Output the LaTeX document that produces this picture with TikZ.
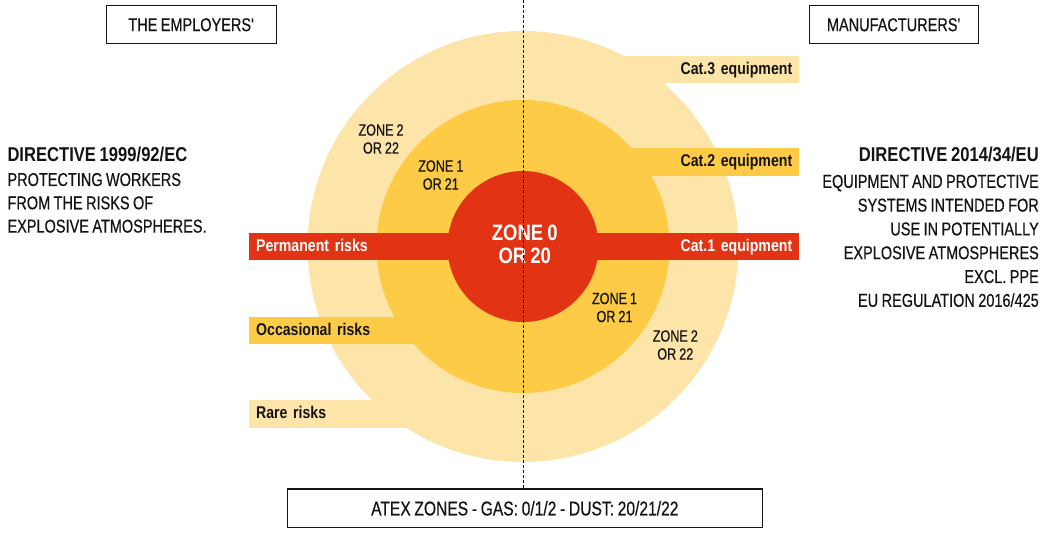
\documentclass[tikz,border=0pt]{standalone}
\usepackage{fontspec}
\setmainfont[FakeStretch=0.78, FakeBold=0.5, WordSpace=0.85]{Liberation Sans}
\newfontfamily\condbold[FakeStretch=0.83, WordSpace=0.8]{Liberation Sans Bold}
\definecolor{zonelight}{HTML}{FDE5A9}
\definecolor{zonemid}{HTML}{FDCB45}
\definecolor{zonered}{HTML}{E23414}
\definecolor{inkblack}{HTML}{141414}
\newcommand{\bodysize}{\fontsize{18.6}{23.3}\selectfont}
\newcommand{\zonesize}{\fontsize{16.2}{18}\selectfont}
\newcommand{\bandsize}{\fontsize{17}{20}\selectfont}
\newcommand{\dirsize}{\fontsize{20}{23.3}\selectfont}

\begin{document}
\begin{tikzpicture}[x=1pt, y=-1pt, text=inkblack,
    band/.style={minimum height=27.5pt, inner xsep=7pt, inner ysep=0pt,
      text width=261pt, text height=12.2pt, text depth=2pt,
      font=\condbold\bandsize},
    zonelabel/.style={align=center, inner sep=0pt, font=\zonesize},
    headbox/.style={draw=inkblack, line width=1.2pt, minimum height=38.5pt,
      inner sep=0pt, text height=13.3pt, text depth=0pt, font=\bodysize}]
  \useasboundingbox (0,0) rectangle (1052,537);

  % Outer ring (zone 2 / 22)
  \fill[zonelight] (523,246.5) circle (215.5pt);
  \node[band, fill=zonelight, anchor=west, align=right, text width=263pt] (cat3) at (522,69.7) {Cat.3 equipment};
  \node[band, fill=zonelight, anchor=west, align=left] (rare) at (249,413.8) {Rare risks};

  % Middle ring (zone 1 / 21)
  \fill[zonemid] (523,246.5) circle (146.5pt);
  \node[band, fill=zonemid, anchor=west, align=right, text width=263pt] (cat2) at (522,161.8) {Cat.2 equipment};
  \node[band, fill=zonemid, anchor=west, align=left] (occas) at (249,330.5) {Occasional risks};

  % Core (zone 0 / 20)
  \fill[zonered] (523,246.5) circle (75.5pt);
  \node[band, fill=zonered, text=white, anchor=west, align=right, text width=263pt] (cat1) at (522,246.3) {Cat.1 equipment};
  \node[band, fill=zonered, text=white, anchor=west, align=left] (perm) at (249,246.3) {Permanent risks};

  % Zone labels
  \node[zonelabel] (z2left) at (381,139) {ZONE 2\\OR 22};
  \node[zonelabel] (z1left) at (440.8,175) {ZONE 1\\OR 21};
  \node[zonelabel] (z1right) at (614.5,307.5) {ZONE 1\\OR 21};
  \node[zonelabel] (z2right) at (675.3,345) {ZONE 2\\OR 22};
  \node[align=center, inner sep=0pt, text=white,
        font=\condbold\fontsize{22.3}{22.3}\selectfont] (z0) at (524.8,244.2) {ZONE 0\\OR 20};

  % Directives
  \node[anchor=north west, align=left, inner sep=0pt, font=\bodysize] (empdir) at (7.3,147.3)
    {{\condbold\dirsize DIRECTIVE 1999/92/EC}\\[0.7pt]
     PROTECTING WORKERS\\FROM THE RISKS OF\\EXPLOSIVE ATMOSPHERES.};
  \node[anchor=north east, align=right, inner sep=0pt, font=\fontsize{18.6}{23.8}\selectfont] (mandir) at (1039,147.3)
    {{\condbold\dirsize DIRECTIVE 2014/34/EU}\\[2pt]
     EQUIPMENT AND PROTECTIVE\\SYSTEMS INTENDED FOR\\USE IN POTENTIALLY\\
     EXPLOSIVE ATMOSPHERES\\EXCL. PPE\\EU REGULATION 2016/425};

  % Boxes
  \node[headbox, minimum width=170pt] (employers) at (191.5,24.5) {THE EMPLOYERS\textquotesingle};
  \node[headbox, minimum width=169.5pt] (makers) at (894,24.5) {MANUFACTURERS\textquotesingle};
  \node[headbox, minimum width=475pt, text height=14.3pt,
        font=\fontsize{20}{24}\selectfont] (atex) at (524.8,508.3) {ATEX ZONES - GAS: 0/1/2 - DUST: 20/21/22};

  % Split line
  \coordinate (axtop) at (523.3,0);
  \draw[inkblack, line width=0.8pt, dash pattern=on 3pt off 2pt] (axtop) -- (axtop |- atex.north);
\end{tikzpicture}
\end{document}
